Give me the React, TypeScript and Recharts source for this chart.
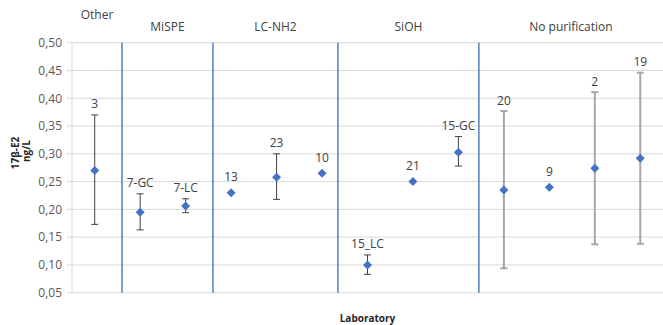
import React from "react";
import {
  ScatterChart,
  Scatter,
  XAxis,
  YAxis,
  CartesianGrid,
  ErrorBar,
  ReferenceLine,
  ReferenceDot,
} from "recharts";

// laboratory results, 17b-E2 in ng/L
const labs = ["3", "7-GC", "7-LC", "13", "23", "10", "15_LC", "21", "15-GC", "20", "9", "2", "19"];
const means = [0.27, 0.195, 0.206, 0.23, 0.258, 0.265, 0.1, 0.25, 0.303, 0.235, 0.24, 0.274, 0.292];
const lows = [0.173, 0.163, 0.194, null, 0.218, null, 0.083, null, 0.278, 0.094, null, 0.137, 0.138];
const highs = [0.37, 0.228, 0.219, null, 0.3, null, 0.118, null, 0.331, 0.377, null, 0.411, 0.446];

// clean-up method groups and where the separators sit (in lab index units)
const groups = ["Other", "MiSPE", "LC-NH2", "SiOH", "No purification"];
const groupOfLab = [0, 1, 1, 2, 2, 2, 3, 3, 3, 4, 4, 4, 4];
const dividers = [0.6, 2.6, 5.35, 8.45];

const yTicks = [0.05, 0.1, 0.15, 0.2, 0.25, 0.3, 0.35, 0.4, 0.45, 0.5];

const FONT = "'Open Sans', sans-serif";
const BLUE = "#4472C4";

type Row = { x: number; y: number; err: number[] | null; lab: string; hasErr: boolean };

const rows: Row[] = labs.map((lab, i) => {
  const lo = lows[i];
  const hi = highs[i];
  const hasErr = lo != null && hi != null;
  return {
    x: i,
    y: means[i],
    err: hasErr ? [means[i] - (lo as number), (hi as number) - means[i]] : null,
    lab,
    hasErr,
  };
});

const purified = rows.filter((_, i) => groupOfLab[i] !== 4);
const unpurified = rows.filter((_, i) => groupOfLab[i] === 4);
const labelRows = rows.map((r, i) => ({ ...r, y: r.hasErr ? (highs[i] as number) : r.y }));

const bounds = [-0.5, ...dividers, 12.5];
const groupMids = groups.map((_, g) => (bounds[g] + bounds[g + 1]) / 2);

const Diamond = (props: any) => {
  const { cx, cy } = props;
  const r = 4.5;
  return (
    <polygon
      points={`${cx},${cy - r} ${cx + r},${cy} ${cx},${cy + r} ${cx - r},${cy}`}
      fill={BLUE}
    />
  );
};

const LabText = (props: any) => {
  const { cx, cy, payload } = props;
  const gap = payload.hasErr ? 11 : 16;
  return (
    <text
      x={cx}
      y={cy - gap}
      textAnchor="middle"
      dominantBaseline="central"
      fontFamily={FONT}
      fontSize={12}
      fill="#404040"
    >
      {payload.lab}
    </text>
  );
};

const YTitle = () => (
  <g fontFamily={FONT} fontSize={10} fontWeight="bold" fill="#262626" textAnchor="middle">
    <text x={19} y={153} transform="rotate(-90 19 153)">
      17β-E2
    </text>
    <text x={30} y={151} transform="rotate(-90 30 151)">
      ng/L
    </text>
  </g>
);

export default function App() {
  return (
    <div style={{ background: "#fff" }}>
      <style>{"body{margin:0}"}</style>
      <ScatterChart
        width={663}
        height={325}
        margin={{ top: 42.7, right: 0, left: 0, bottom: 0 }}
      >
        <CartesianGrid vertical={false} stroke="#d9d9d9" />
        <XAxis
          type="number"
          dataKey="x"
          domain={[-0.5, 12.5]}
          height={32.3}
          tick={false}
          tickLine={false}
          axisLine={false}
          label={{
            value: "Laboratory",
            position: "insideBottom",
            offset: 3,
            fontFamily: FONT,
            fontSize: 10,
            fontWeight: "bold",
            fill: "#262626",
          }}
        />
        <YAxis
          type="number"
          dataKey="y"
          domain={[0.05, 0.5]}
          ticks={yTicks}
          width={72}
          interval={0}
          tickFormatter={(v: number) => v.toFixed(2).replace(".", ",")}
          tick={{ fontFamily: FONT, fontSize: 12, fill: "#595959" }}
          tickSize={5}
          tickMargin={5}
          stroke="#d9d9d9"
          label={{ content: () => <YTitle /> }}
        />
        {dividers.map((d) => (
          <ReferenceLine key={d} x={d} stroke="#4F81BD" strokeWidth={1.5} />
        ))}
        {groups.map((g, i) => (
          <ReferenceDot
            key={g}
            x={groupMids[i]}
            y={0.5}
            r={0}
            fill="none"
            stroke="none"
            ifOverflow="visible"
            label={{
              value: g,
              position: "top",
              offset: i === 0 ? 24 : 12,
              fontFamily: FONT,
              fontSize: 12,
              fill: "#404040",
            }}
          />
        ))}
        <Scatter data={purified} shape={Diamond} isAnimationActive={false}>
          <ErrorBar dataKey="err" direction="y" width={3.5} stroke="#404040" strokeWidth={1} />
        </Scatter>
        <Scatter data={unpurified} shape={Diamond} isAnimationActive={false}>
          <ErrorBar dataKey="err" direction="y" width={3.5} stroke="#a6a6a6" strokeWidth={2} />
        </Scatter>
        <Scatter data={labelRows} shape={LabText} isAnimationActive={false} />
      </ScatterChart>
    </div>
  );
}
